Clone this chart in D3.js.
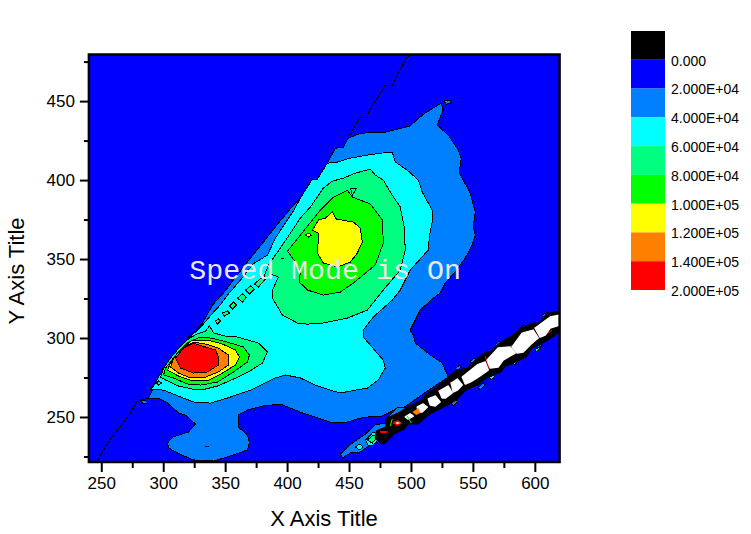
<!DOCTYPE html>
<html>
<head>
<meta charset="utf-8">
<script src="https://d3js.org/d3.v7.min.js"></script>
<style>
  body { margin:0; background:#fff; }
  text { font-family:"Liberation Sans", Arial, sans-serif; fill:#000; }
  .tick text { font-size:17px; }
  .contour path { stroke:#000; stroke-width:1px; shape-rendering:crispEdges; }
  .thin path { stroke:#000; stroke-width:1px; fill:none; shape-rendering:crispEdges; }
</style>
</head>
<body>
<script>
// axis ticks
const xMajor = [250,300,350,400,450,500,550,600]
const xMinor = [275,325,375,425,475,525,575]
const yMajor = [250,300,350,400,450]
const yMinor = [225,275,325,375,425,475]

// legend
const legendColors = ['#000000','#0000ff','#0080ff','#00ffff','#00ff80','#00ff00','#ffff00','#ff8000','#ff0000']
const legendLabels = ['0.000','2.000E+04','4.000E+04','6.000E+04','8.000E+04','1.000E+05','1.200E+05','1.400E+05','2.000E+05']

// contour outlines, [x,y] in data units
const level20k = [[524.4,448.7],[518,445.6],[511.5,442.4],[505.1,438.6],[499.4,434.2],[489,432.2],[479.3,430.4],[467.2,430.4],[457.5,429.1],[449.4,426.6],[445.4,420.9],[439,420.2],[432.5,410.7],[424.4,400.6],[420.4,400.6],[410.7,388.6],[406.7,385.4],[400.3,379.7],[386.5,366.4],[380.9,360.7],[370.4,350.6],[356.7,336.7],[348.6,328.5],[339.8,320.9],[331.7,309.5],[324.4,303.1],[320.4,300.6],[314,292.4],[304.3,281.6],[300.3,281],[292.2,269],[288.2,262],[296.2,262],[303.5,258.8],[312.4,252.5],[318,251.2],[326,245.6],[320.4,240.5],[307.5,237.3],[303.5,233.5],[304.3,230.4],[311.5,227.2],[324.4,222.8],[340.6,222.1],[351.9,224.7],[368,229.1],[369.6,234.2],[368,238.6],[360.7,243.6],[360.7,251.2],[368,254.4],[380.9,257],[394.6,258.2],[410.7,253.1],[434.9,246.8],[448.6,246.8],[459.1,249.3],[465.6,250],[475.2,250],[483.3,253.1],[489,255.7],[493.8,255.7],[507.5,263.3],[530.1,275.3],[527.7,279.7],[525.2,284.2],[515.6,289.2],[503.5,296.8],[501.9,301.9],[499.4,305],[503.5,311.4],[507.5,317.7],[518,325.3],[523.6,328.5],[527.7,334.8],[535.7,341.8],[543.8,350.6],[549.4,358.8],[551.9,365.2],[550.3,370.2],[551.9,379.7],[547.8,391.8],[542.2,400],[539,405],[540.6,413.9],[538.2,419],[530.1,428.5],[521.2,434.8],[526,444.3]]
const level20kSpots = [
  [[526.4,450],[531.7,450.6],[532.5,448.7],[528.5,448.1]],
  [[281.7,260.7],[286.5,260.1],[287.3,258.8],[283.3,258.8]]
]
const level40k = [[432.5,410.7],[440.6,411.4],[451.1,413.9],[464.8,415.8],[475.2,417],[484.9,417.7],[487.4,411.4],[497,406.3],[505.9,400],[509.1,392.4],[517.2,381],[517.2,373.4],[514.8,363.9],[514,355.7],[499.4,343],[491.4,330.4],[484.9,324],[469.6,313.3],[461.5,305],[461.5,300.6],[477.7,286],[479.3,281],[473.6,273.4],[464.8,268.3],[451.1,266.4],[443,265.2],[434.9,267],[422.8,270.2],[410.7,274.7],[398.6,276.6],[390.6,274.7],[370.4,267],[351.9,262],[338.2,258.8],[324.4,259.5],[314,262.7],[300.3,267],[289.8,267.7],[292.2,269.6],[300.3,281],[304.3,281.6],[314,292.4],[320.4,300],[326,303.8],[331.7,308.2],[340.6,316.4],[344.6,319.6],[351.9,327.2],[362.4,336.7],[372.8,347],[384.1,352.5],[390.6,363.3],[405.1,380.4],[410.7,388.6],[420.4,400.6],[424.4,400.6]]
const level60k = [[410.7,375.9],[418.8,382.9],[429.3,394.9],[436.5,399.3],[445.4,401.2],[455.1,404.4],[467.2,406.9],[471.2,403.1],[477.7,400],[483.3,392.4],[491.4,382.9],[494.6,370.2],[495.4,355.7],[491.4,343],[477.7,330.4],[464.8,317.7],[448.6,312.6],[429.3,309.5],[416.4,308.8],[408.3,309.5],[396.2,314.5],[388.2,325.3],[388.2,330.4],[393,338.6],[386.5,340.5],[380.1,336.1],[384.9,346.2],[394.6,357],[402.7,366.4]]
const level60kSpots = [
  [[342.2,310.7],[344.6,312],[346.2,310.7],[343.8,308.8]],
  [[347.8,315.8],[351.9,317.1],[353.5,315.8],[349.4,313.9]],
  [[353.5,320.2],[356.7,322.8],[359.1,320.9],[355.9,318.3]],
  [[359.9,325.3],[364,327.8],[367.2,325.9],[364,322.8]],
  [[366.4,330.4],[370.4,332.9],[373.6,331],[369.6,327.8]],
  [[373.6,334.2],[380.1,338.6],[382.5,337.3],[376.9,332.3]],
  [[294.6,271.5],[296.2,272.8],[298.6,271.5],[296.2,270.2]],
  [[451.1,394.9],[455.9,394.9],[454.3,392.4],[452.7,390.5]]
]
const level80k = [[400.3,355],[410.7,365.2],[420.4,374.7],[426.9,381],[436.5,388.6],[448.6,393.6],[452.7,389.2],[459.1,387.3],[467.2,384.8],[476.9,374.7],[477.7,360.1],[471.2,346.2],[453.5,334.8],[443,329.1],[429.3,327.2],[416.4,330.4],[409.9,335.4],[410.7,341.7],[406.7,348.1]]
const level100k = [[436.5,379.7],[439.8,375.3],[453.5,373.4],[459.1,369.6],[460.7,360.7],[456.7,353.8],[451.1,348.1],[440.6,344.9],[429.3,347.5],[424.4,353.8],[425.3,363.3],[425.3,366.4],[420.4,368.3],[425.3,374.7],[430.9,375.9]]
const level100kSpot = [[414.8,365.2],[417.2,366.4],[419.6,365.2],[417.2,363.9]]

// the hot spot at the lower left
const hot60k = [[300.3,281],[305.9,287.3],[314,294.9],[320.4,299.4],[326.9,302.5],[334.1,304.4],[337.4,307.6],[340.6,303.2],[350.2,301.2],[359.9,300.6],[376.9,296.8],[384.1,291.1],[380.1,284.2],[368.8,278.5],[356.7,274],[343.8,269.6],[334.1,267.7],[323.6,267.7],[312.4,269.6],[301.9,273.4],[297.8,275.3],[299.4,278.5]]
const hot80k = [[300.3,276.6],[301.9,281],[311.5,290.5],[320.4,297.4],[330.1,300.6],[338.2,300],[351.9,297.4],[364.8,294.3],[369.6,289.2],[368,284.8],[356.7,278.5],[343.8,272.1],[330.1,270.2],[319.6,270.9],[308.3,274.7]]
const hot100k = [[303.5,279.7],[305.9,284.2],[314,292.4],[323.6,298.7],[335.7,298.7],[347.8,296.2],[358.3,292.4],[361.5,288],[358.3,282.9],[347.8,277.8],[335.7,272.8],[323.6,272.8],[312.4,275.9]]
const hot120k = [[305.9,281.6],[308.3,287.3],[315.6,293.6],[324.4,297.4],[334.1,296.2],[344.6,293.6],[352.7,289.2],[352.7,282.9],[344.6,278.5],[332.5,274.7],[322,274.7],[312.4,277.8]]
const hot140k = [[309.9,287.3],[316.4,293.6],[324.4,296.8],[334.1,294.3],[342.2,292.4],[344.6,288],[344.6,282.9],[335.7,278.5],[324.4,277.8],[314,281]]

// the narrow ridge at the lower right
const ridgeBase = [[443,226.6],[452.7,233.5],[463.2,239.2],[471.2,245],[479.3,246.2],[481.7,250],[489,255.7],[499.4,255.7],[491.4,241.8],[481.7,236.7],[473.6,234.2],[467.2,232.3],[459.1,227.8],[451.1,227.2],[444.6,224]]
const ridgeCyan = [
  [[463.2,235.4],[469.6,240.5],[475.2,237.3],[469.6,232.3],[465.6,231.6]],
  [[455.1,231],[458.7,232.9],[461.5,231],[458.7,229.1]],
  [[563.2,274.8],[566.4,276.7],[567.2,275.5],[564.8,273.6]],
  [[582.5,284.3],[585.7,286.8],[586.5,285.6],[584.1,283]],
  [[600.3,292.6],[603.5,294.4],[604.3,293.2],[601.1,291.3]]
]
const ridgeGreen = [[464.8,235.4],[469.6,238.6],[472.8,237.3],[468.8,233.5]]
const ridgeFringe = [
  [[547.8,285.3],[551,287.2],[552.7,285.9],[549.4,284]],
  [[568,296],[571.2,297.9],[572.8,296.6],[569.6,294.7]],
  [[586.5,304.9],[590.6,308],[592.2,306.8],[588.2,303.6]],
  [[605.9,314.4],[609.9,316.3],[610.7,315],[607.5,313.1]],
  [[535.7,280.8],[539,282.7],[540.6,281.5],[537.4,279.6]],
  [[554.3,268.5],[558.3,271.7],[559.9,270.4],[555.9,267.2]],
  [[601.9,294.4],[605.1,296.4],[605.9,295.1],[602.7,293.2]],
  [[532.5,258.4],[536.5,261.6],[537.4,259.6],[534.1,257.1]]
]
const ridgeBlack = [[620.4,315.8],[610.7,314.5],[604.3,308.2],[598.6,308.2],[589.8,305],[581.7,300],[572,295.6],[566.4,291.1],[559.9,289.2],[554.3,286],[546.2,279.7],[537.4,278.5],[523.6,269],[514,263.9],[509.1,259.5],[499.4,255.7],[489.8,251.2],[480.9,248.1],[481.7,243],[473.6,240.5],[472.8,236.7],[477.7,234.2],[485.7,240.5],[493,243],[497,246.8],[505.1,246.8],[513.2,252.5],[521.2,255.7],[529.3,258.8],[535.7,262],[543.8,268.3],[553.5,271.5],[561.5,276.6],[572,279.7],[574.4,282.9],[584.1,286],[592.2,289.2],[596.2,294.3],[604.3,297.4],[614,301.9],[620.4,306.3]]
const ridgeWhite = [
  [[600.3,306.3],[612.4,313.3],[620.4,314.5],[620.4,308.2],[612.4,306.3],[608.3,301.9],[604.3,300.6]],
  [[581.7,294.3],[589.8,303.1],[598.6,305],[602.7,300],[597.8,296.8],[590.6,291.1],[585.7,290.5]],
  [[561.5,286],[570.4,293.6],[580,294.3],[584.1,290.5],[574.4,286],[570.4,281.6],[564,281]],
  [[541.4,275.3],[553.5,282.9],[559.9,284.8],[562.4,279.7],[554.3,275.3],[547.8,272.1],[543.8,270.9]],
  [[532.5,271.5],[537.4,274],[541.4,270.2],[537.4,267],[534.1,265.8]],
  [[522.8,266.4],[530.1,269.6],[533.3,265.2],[527.7,262],[525.2,262]],
  [[514,261.4],[519.6,263.3],[523.6,259.5],[519.6,257],[515.6,257.6]],
  [[505.1,256.3],[509.9,258.2],[513.2,256.3],[509.1,253.1],[505.9,253.1]],
  [[495.4,250],[499.4,251.9],[501.9,250.6],[497.8,248.7]]
]
const ridgeCore = [[487.4,246.2],[489,246.8],[491.4,246.2],[489,245.6]]
const ridgeRedSegments = [
  [[559.9,288.6],[563.2,280.4]],
  [[580.9,295.6],[584.9,289.9]],
  [[599.4,306.9],[604.3,300]],
  [[608.3,301.9],[614,305.1]],
  [[589.8,292.4],[596.2,296.2]],
  [[541.4,276],[544.6,270.2]],
  [[531.7,272.1],[535.7,265.8]],
  [[521.9,267],[525.9,262]],
  [[514,262],[517.2,257]]
]
const ridgeRed = [
  [[484.9,246.2],[489,248.1],[493,246.2],[489,244.3]],
  [[475.2,241.1],[480.9,241.1],[480.9,239.9],[475.2,239.9]]
]
const ridgeOrange = [[501.1,253.1],[505.9,255.7],[507.5,252.5],[504.3,251.2]]
const ridgeGreenSegments = [
  [[484.9,248.8],[483.3,244.3]],
  [[497,250.6],[500.2,246.2]]
]

// thin lines running along the edge of the data
const edgeLower = [[288.2,262],[281.7,260.7],[278.5,259.5],[273.6,252.5],[256.7,235.4],[246.2,221.5]]
const edgeUpper = [[499.4,479.5],[495.4,475.9],[484.9,460.1],[479.3,460.1],[465.6,443],[464.8,439.9],[459.1,439.9],[457.5,438],[449.4,426.6]]
const specks = [
  [[334.1,231],[336.6,231]],
  [[395.4,350.6],[397.8,350]],
  [[320.4,300.6],[324.4,301.2]],
  [[298.6,280.4],[301.9,281.6]]
]

const speedLabel = 'Speed Mode is On'
const speedLabelAt = [321,337.3]

const width = 751, height = 534
const x = d3.scaleLinear().domain([240,620]).range([88.9,559.6])
const y = d3.scaleLinear().domain([221.5,479.5]).range([462,54.5])
const line = d3.line().x(d => x(d[0])).y(d => y(d[1]))
const closed = d => line(d) + 'Z'

const svg = d3.select('body').append('svg')
  .attr('width',width)
  .attr('height',height)

svg.append('clipPath').attr('id','plot').append('rect')
  .attr('x',x(240)).attr('y',y(479.5))
  .attr('width',x(620)-x(240)).attr('height',y(221.5)-y(479.5))

const plot = svg.append('g').attr('clip-path','url(#plot)')
plot.append('rect')
  .attr('x',x(240)).attr('y',y(479.5))
  .attr('width',x(620)-x(240)).attr('height',y(221.5)-y(479.5))
  .attr('fill',legendColors[1])

const layers = [
  [legendColors[2],[level20k,...level20kSpots]],
  [legendColors[3],[level40k]],
  [legendColors[4],[level60k,...level60kSpots,hot60k]],
  [legendColors[5],[level80k,hot80k]],
  [legendColors[6],[level100k,level100kSpot,hot100k]],
  [legendColors[7],[hot120k]],
  [legendColors[8],[hot140k]],
  [legendColors[2],[ridgeBase,...ridgeFringe]],
  [legendColors[3],ridgeCyan],
  [legendColors[4],[ridgeGreen]]
]
layers.forEach(([color,rings]) => {
  plot.append('g').classed('contour',true).selectAll('path')
    .data(rings)
    .enter().append('path')
    .attr('d',closed)
    .attr('fill',color)
})

// the ridge core: black rim, red joins, white blobs over them, then the hot pieces
plot.append('path')
  .attr('d',closed(ridgeBlack))
  .attr('fill','#000')
  .attr('stroke','#000')
  .attr('stroke-width',5)
  .attr('stroke-linejoin','round')

plot.append('g').selectAll('path')
  .data(ridgeRedSegments)
  .enter().append('path')
  .attr('d',line)
  .attr('stroke',legendColors[8])
  .attr('stroke-width',1)
  .attr('fill','none')

plot.append('g').selectAll('path')
  .data(ridgeWhite)
  .enter().append('path')
  .attr('d',closed)
  .attr('fill','#fff')
  .attr('stroke','#fff')
  .attr('stroke-width',1.5)
  .attr('stroke-linejoin','round')

const hotRidge = [[legendColors[7],[ridgeOrange]],[legendColors[8],ridgeRed],['#ffffff',[ridgeCore]]]
hotRidge.forEach(([color,rings]) => {
  plot.append('g').selectAll('path')
    .data(rings)
    .enter().append('path')
    .attr('d',closed)
    .attr('fill',color)
})

plot.append('g').classed('thin',true).selectAll('path')
  .data([edgeLower,edgeUpper,...specks])
  .enter().append('path')
  .attr('d',line)

plot.append('g').selectAll('path')
  .data(ridgeGreenSegments)
  .enter().append('path')
  .attr('d',line)
  .attr('stroke',legendColors[5])
  .attr('stroke-width',1)
  .attr('fill','none')

svg.append('text')
  .attr('x',x(speedLabelAt[0]))
  .attr('y',y(speedLabelAt[1]))
  .style('font-family','"Liberation Mono", monospace')
  .style('font-size','28.3px')
  .style('fill','#e8e8e8')
  .text(speedLabel)

// axes
function tidy(axis){
  axis.select('.domain').remove()
  axis.selectAll('line').attr('stroke','#000')
}
const xAxis = svg.append('g').attr('transform',`translate(0,${y(221.5)})`)
  .call(d3.axisBottom(x).tickValues(xMajor).tickSize(10).tickPadding(5).tickFormat(d3.format('d')))
  .call(tidy)
xAxis.selectAll('line').attr('stroke-width',2)
const xAxisMinor = svg.append('g').attr('transform',`translate(0,${y(221.5)})`)
  .call(d3.axisBottom(x).tickValues(xMinor).tickSize(6).tickFormat(''))
  .call(tidy)
xAxisMinor.selectAll('line').attr('stroke-width',2)

const yAxis = svg.append('g').attr('transform',`translate(${x(240)},0)`)
  .call(d3.axisLeft(y).tickValues(yMajor).tickSize(9).tickPadding(5).tickFormat(d3.format('d')))
  .call(tidy)
yAxis.selectAll('line').attr('stroke-width',2)
const yAxisMinor = svg.append('g').attr('transform',`translate(${x(240)},0)`)
  .call(d3.axisLeft(y).tickValues(yMinor).tickSize(5).tickFormat(''))
  .call(tidy)
yAxisMinor.selectAll('line').attr('stroke-width',2)

svg.append('rect')
  .attr('x',x(240)).attr('y',y(479.5))
  .attr('width',x(620)-x(240)).attr('height',y(221.5)-y(479.5))
  .attr('fill','none')
  .attr('stroke','#000')
  .attr('stroke-width',2.5)

svg.append('text')
  .attr('x',324).attr('y',526)
  .attr('text-anchor','middle')
  .style('font-size','22px')
  .text('X Axis Title')
svg.append('text')
  .attr('transform','translate(24,271) rotate(-90)')
  .attr('text-anchor','middle')
  .style('font-size','22px')
  .text('Y Axis Title')

// legend
const legendY = d3.scaleBand().domain(legendColors).range([31,290])
svg.append('g').selectAll('rect')
  .data(legendColors)
  .enter().append('rect')
  .attr('x',631)
  .attr('y',d => legendY(d))
  .attr('width',34)
  .attr('height',legendY.bandwidth())
  .attr('fill',d => d)
svg.append('g').selectAll('text')
  .data(legendLabels)
  .enter().append('text')
  .attr('x',671)
  .attr('y',(d,i) => legendY(legendColors[i])+legendY.bandwidth()+1)
  .attr('dy','0.35em')
  .style('font-size','14px')
  .text(d => d)
</script>
</body>
</html>
